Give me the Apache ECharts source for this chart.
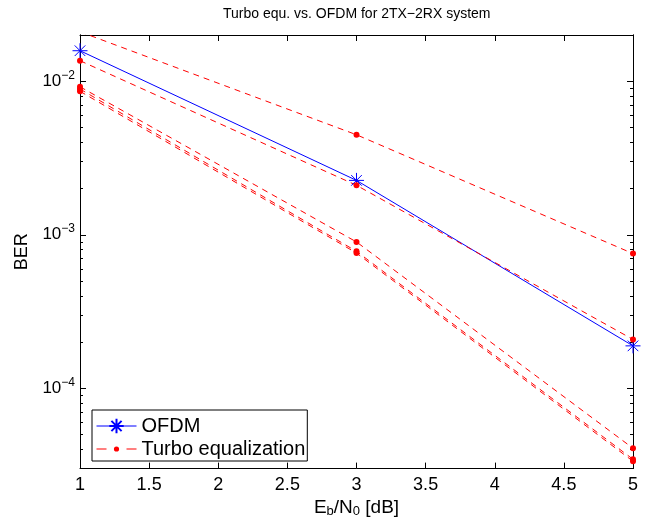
<!DOCTYPE html>
<html><head><meta charset="utf-8">
<script src="https://cdn.jsdelivr.net/npm/echarts@6/dist/echarts.min.js"></script>
<style>html,body{margin:0;padding:0;background:#fff}#c{width:656px;height:523px}</style>
</head><body><div id="c"></div>
<script>
// ---- data ----
const ebn0 = [1, 3, 5];
const ofdm = [0.0158, 2.26e-3, 1.89e-4];
const turboA = [0.021, 4.48e-3, 7.54e-4];
const turboB = [0.0136, 2.10e-3, 2.08e-4];
const turboC = [0.0092, 8.98e-4, 4.07e-5];
const turboD = [0.0089, 7.8e-4, 3.45e-5];
const turboE = [0.0086, 7.6e-4, 3.35e-5];
const xTicks = [1, 1.5, 2, 2.5, 3, 3.5, 4, 4.5, 5];
const yMajor = [1e-4, 1e-3, 1e-2];
const yRange = [3e-5, 0.02];
const legendNames = ['OFDM', 'Turbo equalization'];

// ---- build ----
const L = v => Math.log10(v);
const yMin = L(yRange[0]), yMax = L(yRange[1]);
const minorVals = [];
for (let n = -6; n <= -1; n++) for (let k = 2; k <= 9; k++) {
  const v = k * Math.pow(10, n);
  if (v >= yRange[0] && v <= yRange[1]) minorVals.push(L(v));
}
const majorVals = yMajor.map(L);
const FONT = 'Liberation Sans';
const toPts = arr => ebn0.map((x, i) => [x, L(arr[i])]);
const starPath = 'path://M0 5 L10 5 M5 0 L5 10 M1.46 1.46 L8.54 8.54 M1.46 8.54 L8.54 1.46';
// legend icon for the red series: dash, small dot, dash
const turboIcon = 'path://M0 8.5 h10 v1 h-10 z M30 8.5 h10 v1 h-10 z M17.4 9 a2.6 2.6 0 1 0 5.2 0 a2.6 2.6 0 1 0 -5.2 0 z M0 0 h0.01 v0.01 h-0.01 z M0 17.99 h0.01 v0.01 h-0.01 z';

const yCommon = {
  type: 'value', min: yMin, max: yMax, splitLine: { show: false },
  axisLine: { show: true, lineStyle: { color: '#000', width: 1 } }
};
const yAxes = [
  Object.assign({}, yCommon, {
    position: 'left', name: 'BER', nameLocation: 'middle', nameGap: 49,
    nameTextStyle: { fontFamily: FONT, fontSize: 18, color: '#000' },
    axisTick: { show: true, inside: true, length: 6, customValues: majorVals, lineStyle: { color: '#000' } },
    axisLabel: {
      show: true, margin: 5, customValues: majorVals,
      formatter: v => '{b|10}{s|\u2212' + Math.round(-v) + '}',
      rich: {
        b: { fontFamily: FONT, fontSize: 17, color: '#000' },
        s: { fontFamily: FONT, fontSize: 12, color: '#000', padding: [0, 0, 12, 0] }
      }
    }
  }),
  Object.assign({}, yCommon, {
    position: 'left',
    axisTick: { show: true, inside: true, length: 3, customValues: minorVals, lineStyle: { color: '#000' } },
    axisLabel: { show: false }
  }),
  Object.assign({}, yCommon, {
    position: 'right',
    axisTick: { show: true, inside: true, length: 6, customValues: majorVals, lineStyle: { color: '#000' } },
    axisLabel: { show: false }
  }),
  Object.assign({}, yCommon, {
    position: 'right',
    axisTick: { show: true, inside: true, length: 3, customValues: minorVals, lineStyle: { color: '#000' } },
    axisLabel: { show: false }
  })
];

const xCommon = {
  type: 'value', min: xTicks[0], max: xTicks[xTicks.length - 1], interval: xTicks[1] - xTicks[0],
  splitLine: { show: false },
  axisLine: { show: true, onZero: false, lineStyle: { color: '#000', width: 1 } },
  axisTick: { show: true, inside: true, length: 6, lineStyle: { color: '#000' } }
};
const xAxes = [
  Object.assign({}, xCommon, {
    position: 'bottom',
    name: '{n|E}{sub|b}{n|/N}{sub|0}{n| [dB]}', nameLocation: 'middle', nameGap: 27,
    nameTextStyle: {
      rich: {
        n: { fontFamily: FONT, fontSize: 19, color: '#000' },
        sub: { fontFamily: FONT, fontSize: 13, color: '#000', padding: [0, 0, -7, 0] }
      }
    },
    axisLabel: { show: true, margin: 7, fontFamily: FONT, fontSize: 18, color: '#000', formatter: v => String(v) }
  }),
  Object.assign({}, xCommon, { position: 'top', axisLabel: { show: false } })
];

const red = '#ff0000', blue = '#0000ff';
const redSeries = [turboA, turboB, turboC, turboD, turboE].map(arr => ({
  name: legendNames[1], type: 'line', data: toPts(arr), xAxisIndex: 0, yAxisIndex: 0,
  symbol: 'circle', symbolSize: 6, showAllSymbol: true,
  lineStyle: { color: red, width: 1, type: [6, 5] },
  itemStyle: { color: red }, emphasis: { disabled: true }, animation: false
}));

const option = {
  animation: false,
  backgroundColor: '#fff',
  title: {
    text: 'Turbo equ. vs. OFDM for 2TX\u22122RX system', left: 223, top: 7, padding: 0,
    textStyle: { fontFamily: FONT, fontSize: 14, fontWeight: 'normal', color: '#000' }
  },
  grid: { left: 80, right: 23, top: 35, bottom: 53, containLabel: false },
  legend: {
    data: [{ name: legendNames[0], lineStyle: { width: 1 } }, { name: legendNames[1], icon: turboIcon }],
    orient: 'vertical', left: 92, top: 410,
    padding: [6, 2, 2, 4], itemGap: 3, itemWidth: 40, itemHeight: 18,
    backgroundColor: '#fff', borderColor: '#000', borderWidth: 1, borderRadius: 0,
    textStyle: { fontFamily: FONT, fontSize: 20, color: '#000' }
  },
  xAxis: xAxes,
  yAxis: yAxes,
  series: [
    {
      name: legendNames[0], type: 'line', data: toPts(ofdm), xAxisIndex: 0, yAxisIndex: 0,
      symbol: starPath, symbolSize: 15, showAllSymbol: true,
      lineStyle: { color: blue, width: 1 },
      itemStyle: { color: blue, borderColor: blue, borderWidth: 1 },
      emphasis: { disabled: true }
    }
  ].concat(redSeries)
};
const chart = echarts.init(document.getElementById('c'), null, { renderer: 'canvas' });
chart.setOption(option);
</script></body></html>
